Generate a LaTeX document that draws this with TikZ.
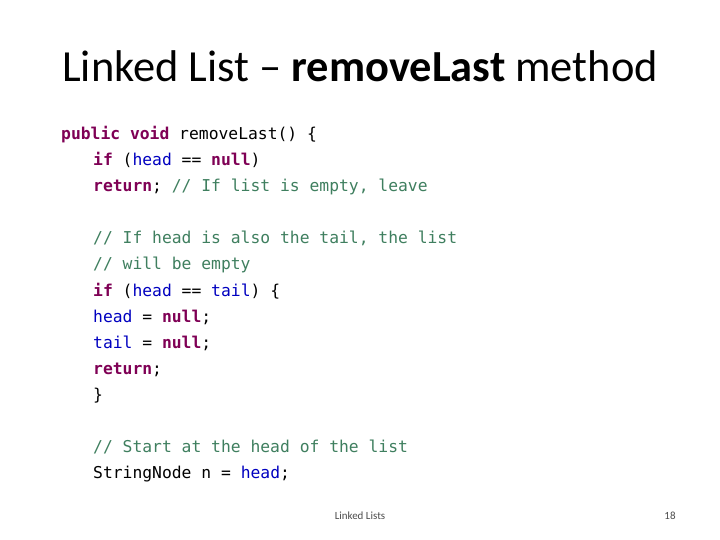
\documentclass[tikz,border=0pt]{standalone}
\usepackage{fontspec}
\setmainfont{Carlito}
\newfontfamily\codefont{DejaVu Sans Mono}
\definecolor{kw}{HTML}{7F0055}
\definecolor{fld}{HTML}{0000C0}
\definecolor{cmt}{HTML}{3F7F5F}
\newcommand{\K}[1]{\textcolor{kw}{\bfseries #1}}
\newcommand{\F}[1]{\textcolor{fld}{#1}}
\newcommand{\C}[1]{\textcolor{cmt}{#1}}
\begin{document}
\begin{tikzpicture}[x=1bp,y=-1bp,
  code/.style={anchor=base west,inner sep=0pt,font=\codefont\fontsize{16.4}{19}\selectfont},
  foot/.style={anchor=base,inner sep=0pt,font=\fontsize{11}{13}\selectfont,text=black!70}]
\useasboundingbox[fill=white] (0,0) rectangle (720,540);
\node[anchor=base,inner sep=0pt,font=\fontsize{44.6}{52}\selectfont] (title) at (360,82) {Linked List -- \textbf{removeLast} method};
\node[code] (l1) at (61,140) {\K{public} \K{void} removeLast() \{};
\node[code] (l2) at (93,166) {\K{if} (\F{head} == \K{null})};
\node[code] (l3) at (93,192) {\K{return}; \C{// If list is empty, leave}};
\node[code] (l4) at (93,244) {\C{// If head is also the tail, the list}};
\node[code] (l5) at (93,270) {\C{// will be empty}};
\node[code] (l6) at (93,296) {\K{if} (\F{head} == \F{tail}) \{};
\node[code] (l7) at (93,322) {\F{head} = \K{null};};
\node[code] (l8) at (93,348) {\F{tail} = \K{null};};
\node[code] (l9) at (93,374) {\K{return};};
\node[code] (l10) at (93,400) {\}};
\node[code] (l11) at (93,452) {\C{// Start at the head of the list}};
\node[code] (l12) at (93,478) {StringNode n = \F{head};};
\node[foot] (f1) at (360,519) {Linked Lists};
\node[foot] (f2) at (670,519) {18};
\end{tikzpicture}
\end{document}
